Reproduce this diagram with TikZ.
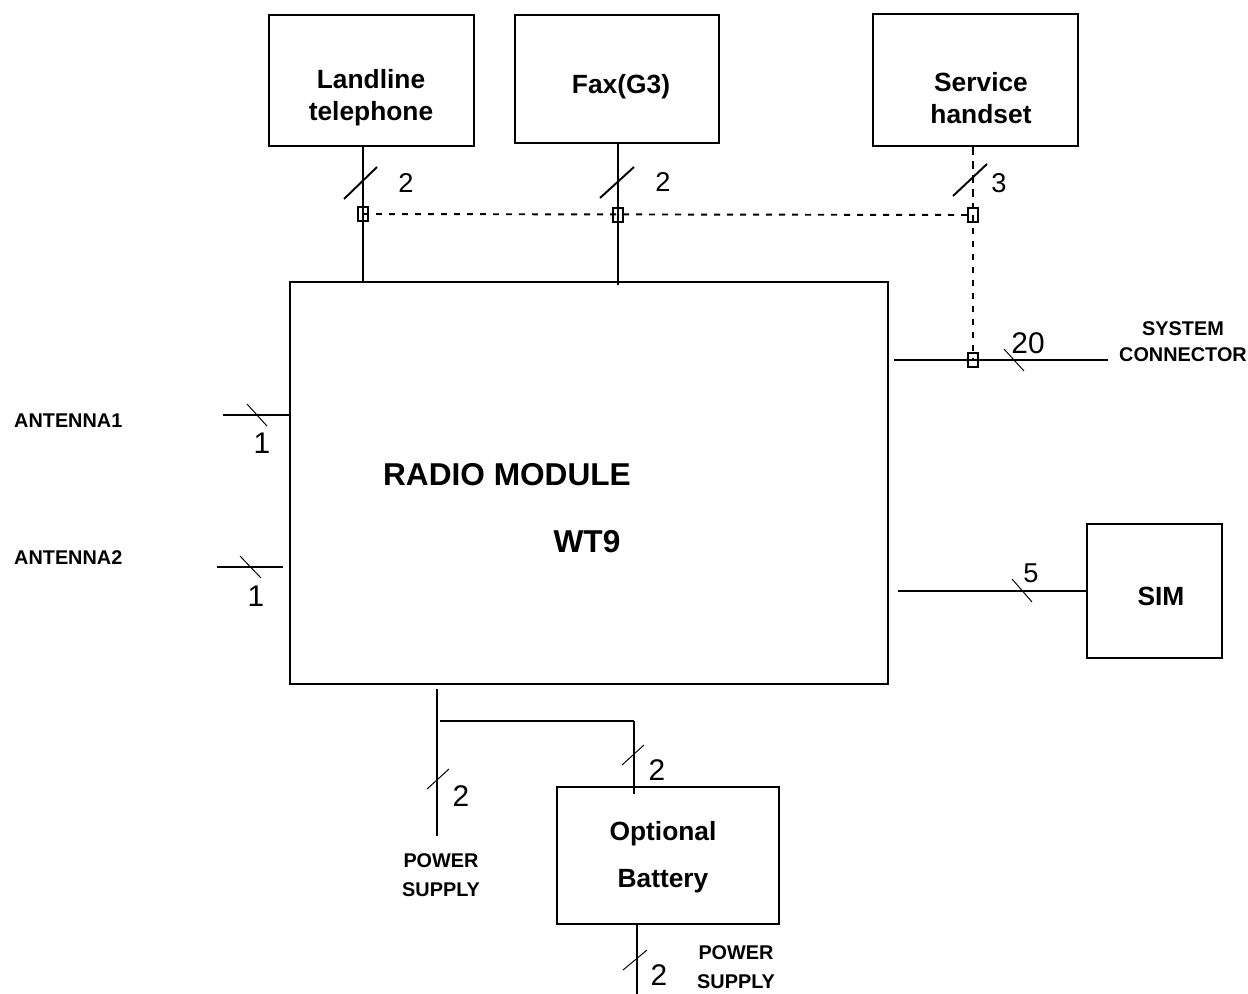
\documentclass[tikz,border=0pt]{standalone}
\usepackage{fontspec}
\setmainfont{Liberation Sans}
\usepackage{xcolor}
\usepackage{tikz}

\begin{document}
\begin{tikzpicture}[x=0.02cm, y=-0.02cm,
    box/.style={draw, line width=1.2pt, inner sep=0pt},
    boxtext/.style={font=\fontsize{15}{18.2}\selectfont\bfseries, align=center},
    tag/.style={font=\fontsize{11.3}{14.7}\selectfont\bfseries, align=center},
    num/.style={font=\fontsize{15.5}{18}\selectfont},
    jack/.style={draw, line width=1.6pt, minimum width=0.2cm, minimum height=0.28cm, inner sep=0pt},
    bus/.style={line width=1.1pt},
    wire/.style={line width=0.7pt},
    tick/.style={line width=1.1pt},
    thintick/.style={line width=0.55pt}]
    \useasboundingbox (0,0) rectangle (1248,994);

    % boxes
    \node[box, minimum width=11.96cm, minimum height=8.04cm] (main) at (589,483) {};
    \node[box, minimum width=4.1cm, minimum height=2.62cm] (land) at (371.5,80.5) {};
    \node[box, minimum width=4.08cm, minimum height=2.56cm] (fax) at (617,79) {};
    \node[box, minimum width=4.1cm, minimum height=2.64cm] (hand) at (975.5,80) {};
    \node[box, minimum width=2.7cm, minimum height=2.68cm] (sim) at (1154.5,591) {};
    \node[box, minimum width=4.44cm, minimum height=2.74cm] (bat) at (668,855.5) {};

    % texts
    \node[boxtext] (landtxt) at (371,98) {Landline\\telephone};
    \node[boxtext] (faxtxt) at (621,87) {Fax(G3)};
    \node[boxtext] (handtxt) at (981,98) {Service\\handset};
    \node[boxtext] (simtxt) at (1161,596) {SIM};
    \node[boxtext, font=\fontsize{15}{26.6}\selectfont\bfseries] (battxt) at (663,857) {Optional\\Battery};
    \node[font=\fontsize{18}{20}\selectfont\bfseries] (radiotxt) at (507,475) {RADIO MODULE};
    \node[font=\fontsize{18}{20}\selectfont\bfseries] (wttxt) at (587,542) {WT9};
    \node[tag] (sys) at (1183,342) {SYSTEM\\CONNECTOR};
    \node[tag, anchor=west] (ant1txt) at (8,421) {ANTENNA1};
    \node[tag, anchor=west] (ant2txt) at (8,558) {ANTENNA2};
    \node[tag, font=\fontsize{11.3}{16.4}\selectfont\bfseries] (ps1txt) at (441,875) {POWER\\SUPPLY};
    \node[tag, font=\fontsize{11.3}{16.4}\selectfont\bfseries] (ps2txt) at (736,967) {POWER\\SUPPLY};

    % junctions
    \coordinate (j1) at (363,214);
    \coordinate (j2) at (618,215);
    \coordinate (j3) at (973,215);
    \coordinate (j4) at (973,360);
    \coordinate (ant1) at (223,415);
    \coordinate (ant2) at (217,567);
    \coordinate (ps1) at (437,836);
    \coordinate (bf) at (634,721);
    \coordinate (ps2) at (637,994);

    % connectors
    \draw[bus] (land.south -| j1) -- (main.north -| j1);
    \draw[bus] (fax.south -| j2) -- ([yshift=-0.08cm]main.north -| j2);
    \draw[wire, dash pattern=on 4.5pt off 3.4pt] (hand.south -| j3) -- ([yshift=0.14cm]j3);
    \draw[bus, dash pattern=on 3.4pt off 4pt] (j1) -- (j3);
    \draw[bus, dash pattern=on 3.4pt off 4pt] (j3) -- (j4);
    \draw[bus] ([xshift=0.1cm]main.east |- j4) -- ([xshift=-0.1cm]sys.west |- j4);
    \draw[bus] ([xshift=0.18cm]main.east |- sim) -- (sim.west);
    \draw[wire] (ant1) -- (ant1 -| main.west);
    \draw[wire] (ant2) -- ([xshift=-0.12cm]ant2 -| main.west);
    \draw[wire] ([yshift=-0.08cm]main.south -| ps1) -- (ps1);
    \draw[bus] ([xshift=0.06cm]bf -| ps1) -- (bf);
    \draw[wire] (bf) -- ([yshift=-0.16cm]bf |- bat.north);
    \draw[wire] (bat.south -| ps2) -- (ps2);

    \node[jack] (jk1) at (j1) {};
    \node[jack] (jk2) at (j2) {};
    \node[jack] (jk3) at (j3) {};
    \node[jack] (jk4) at (j4) {};

    % bus width marks
    \draw[tick] (344,199) -- (377,167);
    \draw[tick] (600,198) -- (634,167);
    \draw[tick] (953,196) -- (987,164);
    \draw[thintick] (1004,349) -- (1024,371);
    \draw[thintick] (247,404) -- (267,426);
    \draw[thintick] (240,556) -- (261,578);
    \draw[thintick] (1012,579) -- (1032,602);
    \draw[thintick] (427,789) -- (449,769);
    \draw[thintick] (622,765) -- (644,745);
    \draw[thintick] (623,970) -- (647,950);

    \node[num] (n1) at (406,183) {2};
    \node[num] (n2) at (663,182) {2};
    \node[num] (n3) at (999,183) {3};
    \node[num, font=\fontsize{17}{18}\selectfont] (n4) at (1028,343) {20};
    \node[num, font=\fontsize{17}{18}\selectfont] (n5) at (262,443) {1};
    \node[num, font=\fontsize{17}{18}\selectfont] (n6) at (256,596) {1};
    \node[num] (n7) at (1031,573) {5};
    \node[num, font=\fontsize{17}{18}\selectfont] (n8) at (461,796) {2};
    \node[num, font=\fontsize{17}{18}\selectfont] (n9) at (657,770) {2};
    \node[num, font=\fontsize{17}{18}\selectfont] (n10) at (659,975) {2};
\end{tikzpicture}
\end{document}
